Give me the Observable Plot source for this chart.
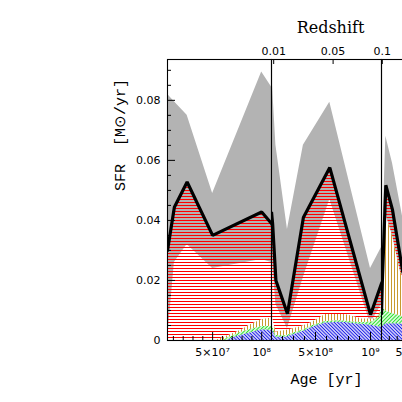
<!DOCTYPE html>
<html><head><meta charset="utf-8">
<script src="https://cdn.jsdelivr.net/npm/d3@7"></script>
<script src="https://cdn.jsdelivr.net/npm/@observablehq/plot@0.6"></script>
<style>
html,body{margin:0;padding:0;background:#fff;overflow:hidden;}
#chart{position:relative;width:402px;height:402px;overflow:hidden;background:#fff;}
</style></head><body>
<svg width="0" height="0" style="position:absolute;left:0;top:0">
 <defs>
  <pattern id="hRed" patternUnits="userSpaceOnUse" width="8" height="3">
   <line x1="0" y1="1.5" x2="8" y2="1.5" stroke="#ff0000" stroke-width="1"/>
  </pattern>
  <pattern id="vGold" patternUnits="userSpaceOnUse" width="3" height="8">
   <line x1="1.5" y1="0" x2="1.5" y2="8" stroke="#c89a30" stroke-width="1"/>
  </pattern>
  <pattern id="dBlue" patternUnits="userSpaceOnUse" width="8" height="2.4" patternTransform="rotate(45)">
   <line x1="0" y1="1.2" x2="8" y2="1.2" stroke="#1a1ae6" stroke-width="1.2"/>
  </pattern>
  <pattern id="dGreen" patternUnits="userSpaceOnUse" width="8" height="2.6" patternTransform="rotate(-45)">
   <line x1="0" y1="1.3" x2="8" y2="1.3" stroke="#22e022" stroke-width="1.2"/>
  </pattern>
 </defs>
</svg>
<div id="chart"></div>
<script>
// ---- data ----
const ages     = [4e6, 1.1e7, 2.4e7, 5e7, 1e8, 1.1e8, 1.4e8, 2.45e8, 3.9e8, 6.3e8, 1e9, 1.1e9, 1.55e9, 2.4e9, 3.7e9, 5e9];
const sfr      = [0.030, 0.0444, 0.0528, 0.035, 0.0428, 0.039, 0.020, 0.0089, 0.041, 0.0576, 0.0086, 0.019, 0.0517, 0.0435, 0.023, 0.016];
const sfrUpper = [0.082, 0.0795, 0.075, 0.049, 0.0894, 0.0844, 0.065, 0.037, 0.065, 0.0794, 0.024, 0.031, 0.068, 0.059, 0.041, 0.030];
const sfrLower = [0.0, 0.026, 0.032, 0.024, 0.027, 0.026, 0.012, 0.004, 0.021, 0.047, 0.0056, 0.012, 0.035, 0.030, 0.015, 0.010];

const compAges = [4e6, 5.3e7, 6.1e7, 6.5e7, 7e7, 8e7, 8.7e7, 1e8, 1.1e8, 1.4e8, 2.3e8, 3.5e8, 4.1e8, 4.7e8, 5.9e8, 7.1e8, 7.7e8, 8.6e8, 9.2e8, 1.02e9, 1.08e9, 1.1e9, 1.3e9, 1.55e9, 2.4e9, 3.4e9, 5e9];
const blueTop  = [0, 0, 0, 0, 0.0008, 0.0018, 0.0024, 0.0036, 0.0033, 0.0011, 0.0011, 0.0026, 0.0033, 0.0044, 0.0058, 0.0061, 0.006, 0.0056, 0.0054, 0.005, 0.0045, 0.0045, 0.0052, 0.0055, 0.0056, 0.0055, 0.005];
const greenTop = [0, 0, 0, 0.0008, 0.0014, 0.0028, 0.0035, 0.0047, 0.0047, 0.0017, 0.0016, 0.0031, 0.0038, 0.0049, 0.0063, 0.0066, 0.0065, 0.0061, 0.006, 0.0062, 0.0085, 0.0095, 0.0105, 0.0098, 0.009, 0.0082, 0.007];
const goldTop  = [0, 0, 0.001, 0.0015, 0.0022, 0.0036, 0.005, 0.0069, 0.0075, 0.0028, 0.0033, 0.0044, 0.0052, 0.0061, 0.0087, 0.0087, 0.0087, 0.0078, 0.0072, 0.0072, 0.0072, 0.012, 0.030, 0.042, 0.035, 0.023, 0.014];

const yTickValues = [0, 0.02, 0.04, 0.06, 0.08];
const yTickLabels = ["0", "0.02", "0.04", "0.06", "0.08"];
const yMinorTicks = [0.005, 0.01, 0.015, 0.025, 0.03, 0.035, 0.045, 0.05, 0.055, 0.065, 0.07, 0.075, 0.085, 0.09];
const yDomain = [0, 0.0936];

const panelDomains  = [[4e6, 1.1e8], [1e8, 1.1e9], [1e9, 1.5e10]];
const ageTickValues = [[5e7, 1e8], [5e8, 1e9], [5e9, 1e10]];
const ageTickLabels = [["5×10⁷", "10⁸"], ["5×10⁸", "10⁹"], ["5×10⁹", "10¹⁰"]];
const ageMinorTicks = [
  [1e7, 2e7, 3e7, 4e7, 6e7, 7e7, 8e7, 9e7],
  [2e8, 3e8, 4e8, 6e8, 7e8, 8e8, 9e8],
  [2e9, 3e9, 4e9, 6e9, 7e9, 8e9, 9e9, 1.1e10, 1.2e10, 1.3e10, 1.4e10]
];
const redshiftLabels = ["0.01", "0.05", "0.1"];
const redshiftAges   = [1.2e8, 6.6e8, 1.1e9];

// ---- tables built from the arrays ----
const rows = ages.map((a, i) => ({age: a, sfr: sfr[i], up: sfrUpper[i], lo: sfrLower[i]}));
const comp = compAges.map((a, i) => ({age: a, blue: blueTop[i], green: greenTop[i], gold: goldTop[i]}));

// ---- layout (pixels) ----
const H = 402, MT = 59, MB = 62;
const FH = H - MT - MB;
const panelsPx = [
  {width: 402, left: 167, right: 131},
  {width: 402, left: 271, right: 21},
  {width: 520, left: 381, right: 29}
];
const tickFont = "DejaVu Sans";
const labelFont = "Liberation Mono";

function panel(k) {
  const [d0, d1] = panelDomains[k];
  const px = panelsPx[k];
  const FW = px.width - px.left - px.right;
  const zTicks = redshiftAges.filter(a => a >= d0 && a < d1);
  const marks = [
    Plot.areaY(rows, {x: "age", y1: "lo", y2: "up", fill: "#b3b3b3", clip: true}),
    Plot.areaY(rows, {x: "age", y1: 0, y2: "sfr", fill: "url(#hRed)", clip: true}),
    Plot.areaY(comp, {x: "age", y1: 0, y2: "gold", fill: "white", clip: true}),
    Plot.areaY(comp, {x: "age", y1: 0, y2: "blue", fill: "url(#dBlue)", clip: true}),
    Plot.areaY(comp, {x: "age", y1: "blue", y2: "green", fill: "url(#dGreen)", clip: true}),
    Plot.areaY(comp, {x: "age", y1: "green", y2: "gold", fill: "url(#vGold)", clip: true}),
    Plot.line(rows, {x: "age", y: "sfr", stroke: "black", strokeWidth: 3.2, strokeLinejoin: "miter", clip: true}),
    Plot.frame({stroke: "black", strokeWidth: 1.1}),
    Plot.ruleX(ageMinorTicks[k], {insetTop: FH - 4, stroke: "black"}),
    Plot.ruleX(ageTickValues[k], {insetTop: FH - 8, stroke: "black"}),
    Plot.axisX({ticks: ageTickValues[k], tickFormat: d => ageTickLabels[k][ageTickValues[k].indexOf(d)],
      tickSize: 0, tickPadding: 8, fontSize: 11, fontFamily: tickFont, label: null})
  ];
  if (zTicks.length) {
    marks.push(Plot.ruleX(zTicks, {insetBottom: FH - 5, stroke: "black"}));
    marks.push(Plot.axisX({anchor: "top", ticks: zTicks, tickFormat: d => redshiftLabels[redshiftAges.indexOf(d)],
      tickSize: 0, tickPadding: 5, fontSize: 11, fontFamily: tickFont, label: null}));
  }
  if (k === 0) {
    marks.push(Plot.ruleY(yMinorTicks, {insetRight: FW - 4, stroke: "black"}));
    marks.push(Plot.ruleY(yTickValues, {insetRight: FW - 8, stroke: "black"}));
    marks.push(Plot.axisY({ticks: yTickValues, tickFormat: d => yTickLabels[yTickValues.indexOf(d)],
      tickSize: 0, tickPadding: 7, fontSize: 11, fontFamily: tickFont, label: null}));
    marks.push(Plot.text(["SFR  [M⊙/yr]"], {frameAnchor: "left", rotate: -90, dx: -47, dy: -9,
      lineAnchor: "middle", fontFamily: labelFont, fontSize: 15, fill: "black"}));
  }
  if (k === 1) {
    marks.push(Plot.text(["Redshift"], {frameAnchor: "top", dy: -32, dx: 4, lineAnchor: "middle",
      fontFamily: "DejaVu Serif", fontSize: 16, fill: "black"}));
    marks.push(Plot.text(["Age [yr]"], {frameAnchor: "bottom", dy: 39, lineAnchor: "middle",
      fontFamily: labelFont, fontSize: 15, fill: "black"}));
  }
  const svg = Plot.plot({
    width: px.width, height: H,
    marginLeft: px.left, marginRight: px.right, marginTop: MT, marginBottom: MB,
    x: {type: "linear", domain: panelDomains[k], axis: null},
    y: {domain: yDomain, axis: null},
    style: {background: "none", overflow: "visible", maxWidth: "none", position: "absolute",
      left: "0px", top: "0px", fontFamily: tickFont, fontSize: "11px", color: "black"},
    marks
  });
  return svg;
}

const chart = document.getElementById("chart");
for (let k = 0; k < 3; k++) chart.appendChild(panel(k));
</script>
</body></html>
